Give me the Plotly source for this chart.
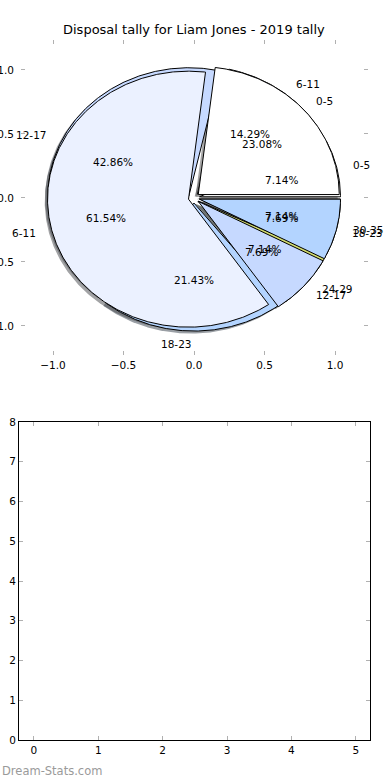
import numpy as np
import plotly.graph_objects as go

# ---- data ----
title_text = "Disposal tally for Liam Jones - 2019 tally"
labels1 = ["0-5", "6-11", "12-17", "18-23", "24-29", "30-35"]
counts1 = [1, 2, 6, 3, 1, 1]
labels2 = ["0-5", "6-11", "12-17", "18-23"]
counts2 = [3, 8, 1, 1]
colors = ["#ffffff", "#ebf1ff", "#c6d9ff", "#b3d4ff", "#d2dc6e", "#ffe0b0"]
explode = 0.04
pie_ticks = [-1.0, -0.5, 0.0, 0.5, 1.0]
pie_ticktext = ["\u22121.0", "\u22120.5", "0.0", "0.5", "1.0"]
bar_xticks = [0, 1, 2, 3, 4, 5]
bar_yticks = [0, 1, 2, 3, 4, 5, 6, 7, 8]
watermark = "Dream-Stats.com"

FONT = "DejaVu Sans"
fig = go.Figure()


def hex_rgb(h):
    h = h.lstrip("#")
    return tuple(int(h[i:i + 2], 16) for i in (0, 2, 4))


def pie_geometry(counts):
    total = float(sum(counts))
    out = []
    t1 = 0.0
    for c in counts:
        t2 = t1 + 360.0 * c / total
        tm = np.deg2rad((t1 + t2) / 2.0)
        cx, cy = explode * np.cos(tm), explode * np.sin(tm)
        out.append((t1, t2, tm, cx, cy, 100.0 * c / total))
        t1 = t2
    return out


def wedge_xy(t1, t2, cx, cy, r=1.0):
    n = max(int(abs(t2 - t1) * 2), 4)
    t = np.deg2rad(np.linspace(t1, t2, n))
    xs = np.concatenate([[cx], cx + r * np.cos(t), [cx]])
    ys = np.concatenate([[cy], cy + r * np.sin(t), [cy]])
    return xs, ys


pies = [(labels1, counts1), (labels2, counts2)]
geoms = [pie_geometry(c) for _, c in pies]

# shadows (drawn beneath all wedges)
for (labs, cnts), geom in zip(pies, geoms):
    for i, (t1, t2, tm, cx, cy, pct) in enumerate(geom):
        r, g, b = hex_rgb(colors[i % len(colors)])
        xs, ys = wedge_xy(t1, t2, cx - 0.02, cy - 0.02)
        fig.add_trace(go.Scatter(
            x=xs, y=ys, mode="lines", fill="toself",
            fillcolor=f"rgba({0.3*r:.0f},{0.3*g:.0f},{0.3*b:.0f},0.5)",
            line=dict(width=0), hoverinfo="skip", showlegend=False,
            xaxis="x", yaxis="y"))

# wedges
for (labs, cnts), geom in zip(pies, geoms):
    for i, (t1, t2, tm, cx, cy, pct) in enumerate(geom):
        xs, ys = wedge_xy(t1, t2, cx, cy)
        fig.add_trace(go.Scatter(
            x=xs, y=ys, mode="lines", fill="toself",
            fillcolor=colors[i % len(colors)],
            line=dict(width=1, color="black"), hoverinfo="skip",
            showlegend=False, xaxis="x", yaxis="y"))

annotations = []
for (labs, cnts), geom in zip(pies, geoms):
    for i, (t1, t2, tm, cx, cy, pct) in enumerate(geom):
        lx = cx + 1.1 * np.cos(tm)
        ly = cy + 1.1 * np.sin(tm)
        annotations.append(dict(
            x=lx, y=ly, xref="x", yref="y", text=labs[i], showarrow=False,
            xanchor="left" if lx > 0 else "right", yanchor="middle",
            font=dict(family=FONT, size=10.5, color="black")))
        px = cx + 0.6 * np.cos(tm)
        py = cy + 0.6 * np.sin(tm)
        annotations.append(dict(
            x=px, y=py, xref="x", yref="y", text=f"{pct:1.2f}%",
            showarrow=False, xanchor="center", yanchor="middle",
            font=dict(family=FONT, size=10.5, color="black")))

annotations.append(dict(
    x=194 / 390, y=1 - 30 / 780, xref="paper", yref="paper",
    text=title_text, showarrow=False, xanchor="center", yanchor="middle",
    font=dict(family=FONT, size=13, color="black")))
annotations.append(dict(
    x=0.0, y=1 - 771 / 780, xref="paper", yref="paper", text=watermark,
    showarrow=False, xanchor="left", yanchor="middle",
    font=dict(family=FONT, size=11.5, color="#9a9a9a")))

# empty lower axes
fig.add_trace(go.Scatter(x=[], y=[], xaxis="x2", yaxis="y2",
                         showlegend=False, hoverinfo="skip"))

tick_common = dict(ticks="inside", ticklen=4, tickwidth=1, tickcolor="#b0b0b0",
                   showgrid=False, zeroline=False, automargin=False,
                   tickfont=dict(family=FONT, size=10.5, color="black"))

fig.update_layout(
    width=390, height=780,
    margin=dict(l=0, r=0, t=0, b=0, autoexpand=False),
    paper_bgcolor="white", plot_bgcolor="white",
    showlegend=False,
    annotations=annotations,
    xaxis=dict(domain=[21 / 390, 368 / 390], range=[-1.227, 1.234],
               tickvals=pie_ticks, ticktext=pie_ticktext, showline=False,
               mirror="ticks", anchor="y", ticklabelstandoff=2, **tick_common),
    yaxis=dict(domain=[425 / 780, 740 / 780], range=[-1.227, 1.234],
               tickvals=pie_ticks, ticktext=pie_ticktext, showline=False,
               mirror="ticks", anchor="x", ticklabelstandoff=6, **tick_common),
    xaxis2=dict(domain=[19 / 390, 370 / 390], range=[-0.23, 5.22],
                tickvals=bar_xticks, showline=True, linecolor="black",
                linewidth=1, mirror="ticks", anchor="y2", **tick_common),
    yaxis2=dict(domain=[40 / 780, 358 / 780], range=[0, 8],
                tickvals=bar_yticks, showline=True, linecolor="black",
                linewidth=1, mirror="ticks", anchor="x2", **tick_common),
)

fig.write_html("out.html", config={"displayModeBar": False},
               post_script="document.body.style.margin='0';")
